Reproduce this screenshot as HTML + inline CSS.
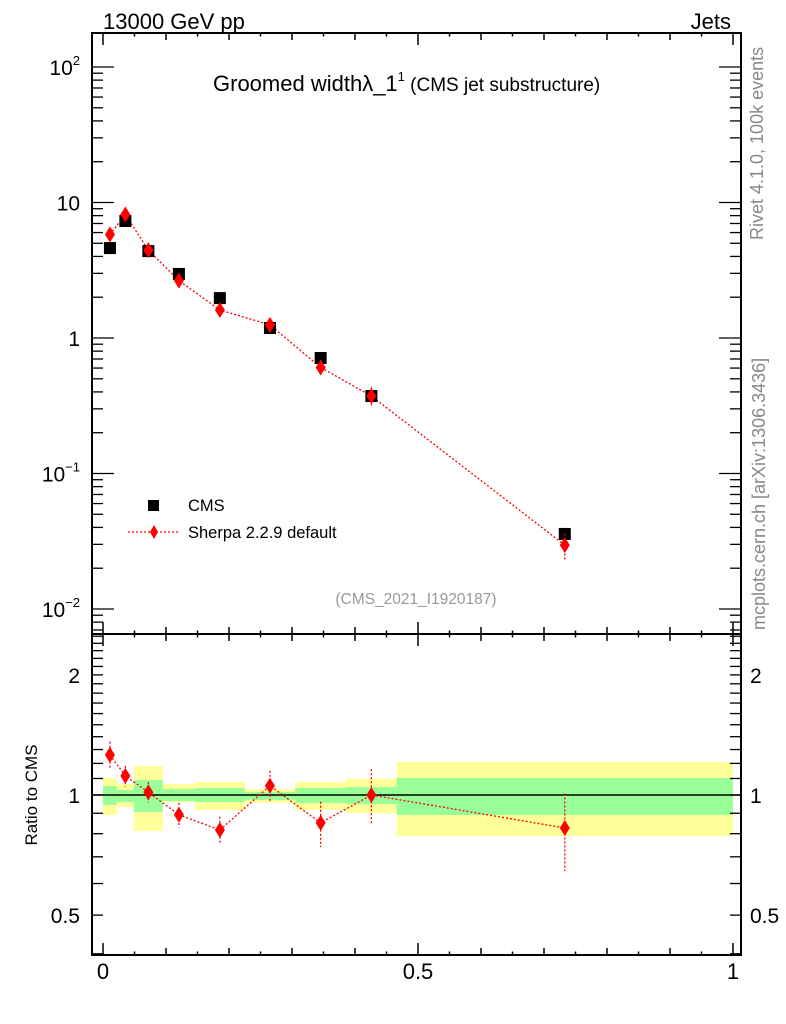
<!DOCTYPE html>
<html><head><meta charset="utf-8"><style>
body{margin:0;background:#fff;}
svg{display:block;font-family:"Liberation Sans",sans-serif;}
</style></head><body>
<svg id="c" width="786" height="1024" viewBox="0 0 786 1024">
<rect width="786" height="1024" fill="#fff"/>
<g id="ratioBands"></g>
<g id="axes"></g>
<g id="marks"></g>
<text x="103" y="29" font-size="22">13000 GeV pp</text>
<text x="731" y="29" font-size="22" text-anchor="end">Jets</text>
<text x="213" y="91" font-size="22">Groomed width<tspan>λ_1</tspan><tspan font-size="13" dy="-10">1</tspan><tspan font-size="19" dy="10"> (CMS jet substructure)</tspan></text>
<text x="416" y="604" font-size="15.5" fill="#999" text-anchor="middle">(CMS_2021_I1920187)</text>
<text transform="translate(763,240) rotate(-90)" font-size="18" fill="#888">Rivet 4.1.0,  100k events</text>
<text transform="translate(765,630) rotate(-90)" font-size="18" fill="#888">mcplots.cern.ch [arXiv:1306.3436]</text>
<text transform="translate(37,795) rotate(-90)" font-size="17" text-anchor="middle">Ratio to CMS</text>
<g>
<rect x="148" y="500" width="11" height="11" fill="#000"/>
<text x="188" y="511" font-size="16.5">CMS</text>
<line x1="128" y1="532" x2="180" y2="532" stroke="red" stroke-width="1.3" stroke-dasharray="2,2"/>
<polygon points="154,525 158,532 154,539 150,532" fill="red"/>
<text x="188" y="538" font-size="16.5">Sherpa 2.2.9 default</text>
</g>
</svg>
<script>
const binEdges=[0,0.022,0.049,0.095,0.146,0.225,0.305,0.386,0.466,1];
const cmsValues=[4.61,7.3,4.38,2.97,1.97,1.185,0.712,0.373,0.0358];
const sherpaValues=[5.81,8.15,4.45,2.65,1.61,1.25,0.606,0.373,0.0296];
const sherpaRelErr=[0.08,0.06,0.06,0.07,0.08,0.09,0.13,0.16,0.22];
const yellowLo=[0.891,0.933,0.812,0.960,0.917,0.955,0.917,0.901,0.789];
const yellowHi=[1.103,1.065,1.182,1.065,1.078,1.035,1.078,1.097,1.210];
const greenLo=[0.944,0.960,0.907,0.966,0.960,0.972,0.955,0.949,0.891];
const greenHi=[1.053,1.029,1.090,1.035,1.041,1.017,1.041,1.047,1.103];
const xTickLabels=["0","0.5","1"];
const ratioTickLabels=["0.5","1","2"];

const NS="http://www.w3.org/2000/svg";
const L=92,R=741,T=33,MB=634,RB=955;
const X=v=>103+v*630;
const Y=v=>338-Math.log10(v)*135.5;
const YR=v=>795-Math.log10(v)*399;
function mk(parent,tag,attrs){const e=document.createElementNS(NS,tag);for(const k in attrs)e.setAttribute(k,attrs[k]);document.getElementById(parent).appendChild(e);return e;}

for(let i=0;i<cmsValues.length;i++){
  const x0=X(binEdges[i]),x1=X(binEdges[i+1]);
  let e=mk('ratioBands','rect',{x:x0,y:YR(yellowHi[i]),width:x1-x0,height:YR(yellowLo[i])-YR(yellowHi[i]),fill:'#ffff99'});
  
  
  e=mk('ratioBands','rect',{x:x0,y:YR(greenHi[i]),width:x1-x0,height:YR(greenLo[i])-YR(greenHi[i]),fill:'#99ff99'});
  
  
}
let f=mk('axes','rect',{x:L,y:T,width:R-L,height:MB-T,fill:'none',stroke:'#000','stroke-width':2});


f=mk('axes','rect',{x:L,y:MB,width:R-L,height:RB-MB,fill:'none',stroke:'#000','stroke-width':2});


let ul=mk('axes','line',{x1:L,x2:R,y1:YR(1),y2:YR(1),stroke:'#000','stroke-width':1.5});


for(let k=0;k<=20;k++){
  const v=k*0.05,x=X(v);
  const len=(k%10===0)?12:(k%2===0?7:3.5);
  for(const yy of [T,MB,RB]){
    const t=mk('axes','line',{x1:x,x2:x,y1:yy-(yy===T?0:len),y2:yy+(yy===RB?0:len),stroke:'#000','stroke-width':1.5});
    
    
  }
}
xTickLabels.forEach((s,i)=>{const t=mk('axes','text',{x:X(i*0.5),y:979,'font-size':22,'text-anchor':'middle'});t.textContent=s;

});
for(let d=-3;d<=2;d++){for(let m=1;m<=9;m++){
  const v=m*Math.pow(10,d),y=Y(v);if(y<T||y>MB)continue;
  const len=m===1?22:11;
  for(const [x1,x2] of [[L,L+len],[R-len,R]]){
    const t=mk('axes','line',{x1,x2,y1:y,y2:y,stroke:'#000','stroke-width':1.3});
    
    
  }
}}
[["10",2],["10",-1],["10",-2]].forEach(([b,e])=>{const t=mk('axes','text',{x:80,y:Y(Math.pow(10,e))+8,'font-size':21,'text-anchor':'end'});
t.innerHTML='10<tspan font-size="13" dy="-10">'+(e<0?'−'+(-e):e)+'</tspan>';

});
[["10",10],["1",1]].forEach(([s,v])=>{const t=mk('axes','text',{x:80,y:Y(v)+8,'font-size':21,'text-anchor':'end'});t.textContent=s;

});
for(let k=4;k<=25;k++){const v=k/10,y=YR(v);if(y<MB||y>RB)continue;
  const len=11;
  for(const [x1,x2] of [[L,L+len],[R-len,R]]){
    const t=mk('axes','line',{x1,x2,y1:y,y2:y,stroke:'#000','stroke-width':1.3});
    
    
  }
}
ratioTickLabels.forEach(s=>{const v=parseFloat(s);
  for(const [x,a] of [[80,'end'],[750,'start']]){const t=mk('axes','text',{x,y:YR(v)+8,'font-size':21,'text-anchor':a});t.textContent=s;
  
  }});
const centers=cmsValues.map((_,i)=>(binEdges[i]+binEdges[i+1])/2);
const ratios=sherpaValues.map((v,i)=>v/cmsValues[i]);
let p=mk('marks','polyline',{points:centers.map((c,i)=>X(c)+','+Y(sherpaValues[i])).join(' '),fill:'none',stroke:'red','stroke-width':1.3,'stroke-dasharray':'2,2'});


p=mk('marks','polyline',{points:centers.map((c,i)=>X(c)+','+YR(ratios[i])).join(' '),fill:'none',stroke:'red','stroke-width':1.3,'stroke-dasharray':'2,2'});


centers.forEach((c,i)=>{
  const x=X(c);
  let s=mk('marks','rect',{x:x-6,y:Y(cmsValues[i])-6,width:12,height:12,fill:'#000'});
  
  
  const e=sherpaRelErr[i];
  for(const [fy,val] of [[Y,sherpaValues[i]],[YR,ratios[i]]]){
    const y=fy(val);
    let eb=mk('marks','line',{x1:x,x2:x,y1:fy(val*(1+e)),y2:fy(val*(1-e)),stroke:'red','stroke-width':1.3,'stroke-dasharray':'2,2'});
    
    
    let d=mk('marks','polygon',{points:`${x},${y-8} ${x+5},${y} ${x},${y+8} ${x-5},${y}`,fill:'red'});
    
    
  }
});
</script>
</body></html>
